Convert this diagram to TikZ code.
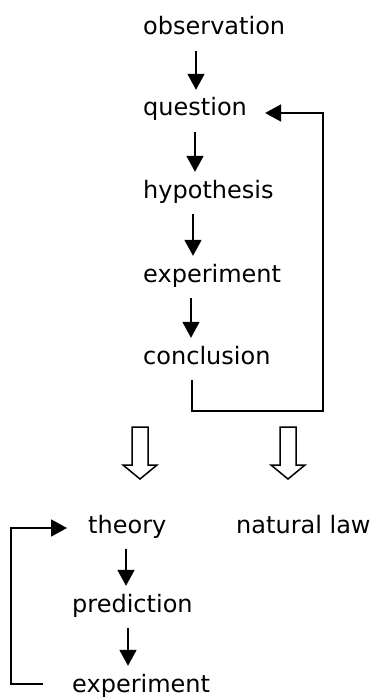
\documentclass[tikz,border=0pt]{standalone}
\usepackage{fontspec}
\setmainfont{DejaVu Sans}
\usetikzlibrary{arrows.meta}

\begin{document}
\begin{tikzpicture}[x=1pt,y=-1pt,
  word/.style={anchor=base west,inner xsep=0pt,inner ysep=8pt,
    text height=18pt,text depth=8pt,font=\fontsize{24}{28}\selectfont},
  arr/.style={line width=1.8pt,-{Triangle[length=16pt,width=17pt]}},
  hollow/.pic={\draw[line width=1.5pt,line join=miter]
    (-8,0) -- (-8,38) -- (-17,38) -- (0,52) -- (17,38) -- (8,38) -- (8,0) -- cycle;}]
  \useasboundingbox (0,0) rectangle (376,698);
  % upper chain: observation down to conclusion
  \node[word] (obs) at (143,35) {observation};
  \node[word] (quest) at (143,116) {question};
  \node[word] (hyp) at (143,198) {hypothesis};
  \node[word] (exper) at (143,282) {experiment};
  \node[word] (concl) at (143,364) {conclusion};
  \draw[arr] ([xshift=53pt]obs.south west) coordinate (a1) -- (a1 |- quest.north);
  \draw[arr] ([xshift=52pt]quest.south west) coordinate (a2) -- (a2 |- hyp.north);
  \draw[arr] ([xshift=50pt]hyp.south west) coordinate (a3) -- (a3 |- exper.north);
  \draw[arr] ([xshift=48pt]exper.south west) coordinate (a4) -- (a4 |- concl.north);
  % loop back from conclusion to question
  \coordinate (fbR) at (323,411);
  \draw[arr] ([xshift=49pt]concl.south west) |- (fbR) |- ([xshift=18pt,yshift=-2pt]quest.east);
  % two outcomes
  \pic at (140,427) {hollow};
  \pic at (288,427) {hollow};
  \node[word] (theory) at (88,533) {theory};
  \node[word] (law) at (236,533) {natural law};
  \node[word] (pred) at (72,612) {prediction};
  \node[word] (exper2) at (72,692) {experiment};
  \draw[arr] ([xshift=38pt]theory.south west) coordinate (b1) -- (b1 |- pred.north);
  \draw[arr] ([xshift=56pt]pred.south west) coordinate (b2) -- (b2 |- exper2.north);
  % loop back from experiment to theory
  \draw[arr] ([xshift=-29pt,yshift=3pt]exper2.west) -| ([xshift=-77pt]theory.west)
    -- ([xshift=-21pt]theory.west);
\end{tikzpicture}
\end{document}
